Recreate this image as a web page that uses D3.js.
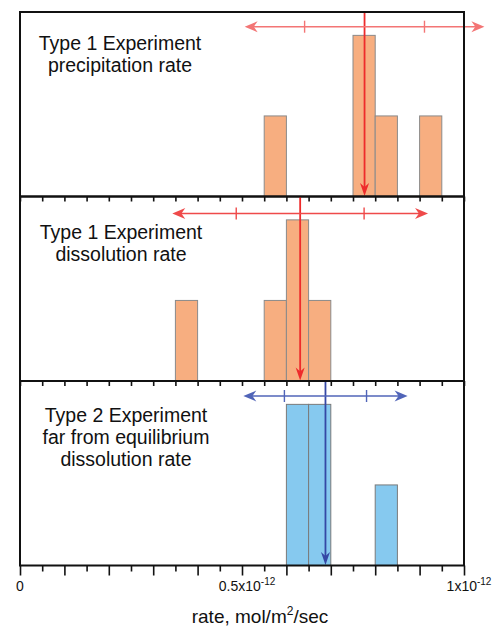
<!DOCTYPE html>
<html>
<head>
<meta charset="UTF-8">
<title>rate histograms</title>
<script src="https://cdn.jsdelivr.net/npm/d3@7"></script>
<style>
  body { margin: 0; background: #fff; }
  text { font-family: "Liberation Sans", Arial, Helvetica, sans-serif; fill: #111; }
</style>
</head>
<body>
<svg id="chart" width="496" height="626"></svg>
<script>
// rates in units of 1e-12 mol/m2/sec, bins are 0.05 wide
const binWidth = 0.05;

const precipBins = [0.55, 0.75, 0.80, 0.90];
const precipCounts = [1, 2, 1, 1];

const dissolBins = [0.35, 0.55, 0.60, 0.65];
const dissolCounts = [1, 1, 2, 1];

const farBins = [0.60, 0.65, 0.80];
const farCounts = [2, 2, 1];

const means = [0.776, 0.631, 0.688];
const sds = [0.135, 0.144, 0.0925];

const panelLabels = [
  ["Type 1 Experiment", "precipitation rate"],
  ["Type 1 Experiment", "dissolution rate"],
  ["Type 2 Experiment", "far from equilibrium", "dissolution rate"]
];

const tickLabels = [
  { v: 0, base: "0", exp: "" },
  { v: 0.5, base: "0.5x10", exp: "-12" },
  { v: 1, base: "1x10", exp: "-12" }
];

const svg = d3.select("#chart");

const left = 20, right = 464;
const panelTops = [12, 196.5, 381];
const panelH = 184.5;

const x = d3.scaleLinear().domain([0, 1]).range([left, right]);

const panels = [
  { bins: precipBins, counts: precipCounts, fill: "#f7ae80", stroke: "#8a8a8a",
    vline: "#ee2b2b", hline: "#f37575", arrowOff: 14.7, label: panelLabels[0], labelX: 120, labelY: 38 },
  { bins: dissolBins, counts: dissolCounts, fill: "#f7ae80", stroke: "#8a8a8a",
    vline: "#ee2b2b", hline: "#ef4a4a", arrowOff: 17, label: panelLabels[1], labelX: 121, labelY: 42.8 },
  { bins: farBins, counts: farCounts, fill: "#86c9ef", stroke: "#7a7a7a",
    vline: "#3548a5", hline: "#5064b8", arrowOff: 15, label: panelLabels[2], labelX: 126, labelY: 41.3 }
];

// arrowhead pointing in direction (dx,dy) with tip at (tx,ty)
function arrowHead(tx, ty, dx, dy, len, half) {
  const px = -dy, py = dx;
  const bx = tx - dx * len, by = ty - dy * len;
  const nx = tx - dx * len * 0.7, ny = ty - dy * len * 0.7;
  return `M${tx},${ty}L${bx + px * half},${by + py * half}L${nx},${ny}L${bx - px * half},${by - py * half}Z`;
}

panels.forEach((p, i) => {
  const top = panelTops[i], bottom = top + panelH;
  const y = d3.scaleLinear().domain([0, 2.29]).range([bottom, top]);
  const g = svg.append("g");

  // bars
  g.selectAll("rect")
    .data(p.bins.map((b, j) => ({ b: b, c: p.counts[j] })))
    .join("rect")
    .attr("x", d => x(d.b))
    .attr("width", d => x(d.b + binWidth) - x(d.b))
    .attr("y", d => y(d.c))
    .attr("height", d => y(0) - y(d.c))
    .attr("fill", p.fill)
    .attr("stroke", p.stroke)
    .attr("stroke-width", 1);

  // label
  const t = g.append("text")
    .attr("text-anchor", "middle")
    .style("font-size", "19.5px");
  p.label.forEach((line, k) => {
    t.append("tspan").attr("x", p.labelX).attr("y", top + p.labelY + k * 21.7).text(line);
  });

  // mean line with arrow
  const m = x(means[i]);
  g.append("line")
    .attr("x1", m).attr("x2", m)
    .attr("y1", top).attr("y2", bottom - 8)
    .attr("stroke", p.vline).attr("stroke-width", 1.8);
  g.append("path")
    .attr("d", arrowHead(m, bottom - 0.5, 0, 1, 13, 4.5))
    .attr("fill", p.vline);

  // +/- 2 sd horizontal arrow, ticks at +/- 1 sd
  const ay = top + p.arrowOff;
  const lo = x(means[i] - 2 * sds[i]), hi = x(means[i] + 2 * sds[i]);
  g.append("line")
    .attr("x1", lo + 4).attr("x2", hi - 4)
    .attr("y1", ay).attr("y2", ay)
    .attr("stroke", p.hline).attr("stroke-width", 1.4);
  g.append("path").attr("d", arrowHead(lo, ay, -1, 0, 13, 5.5)).attr("fill", p.hline);
  g.append("path").attr("d", arrowHead(hi, ay, 1, 0, 13, 5.5)).attr("fill", p.hline);
  [-1, 1].forEach(s => {
    const tx = x(means[i] + s * sds[i]);
    g.append("line")
      .attr("x1", tx).attr("x2", tx)
      .attr("y1", ay - 6).attr("y2", ay + 6)
      .attr("stroke", p.hline).attr("stroke-width", 1.4);
  });

  // panel frame
  g.append("rect")
    .attr("x", left).attr("y", top)
    .attr("width", right - left).attr("height", panelH)
    .attr("fill", "none").attr("stroke", "#111").attr("stroke-width", 2);

  // ticks on the bottom edge
  const last = i === panels.length - 1;
  const ax = d3.axisBottom(x)
    .tickValues(d3.range(0, 1.0001, 0.05))
    .tickFormat("")
    .tickSizeOuter(0)
    .tickSizeInner(5);
  const axg = g.append("g").attr("transform", `translate(0,${bottom})`).call(ax);
  axg.select(".domain").remove();
  axg.selectAll(".tick line")
    .attr("stroke", "#111").attr("stroke-width", 1.6)
    .attr("y2", (d, k) => last ? (k % 2 === 0 ? 10 : 6) : 5);
});

// tick labels
const bottomY = panelTops[2] + panelH;
tickLabels.forEach(t => {
  const txt = svg.append("text")
    .attr("x", x(t.v) + (t.exp ? 5 : 0))
    .attr("y", bottomY + 25)
    .attr("text-anchor", "middle")
    .style("font-size", "14px")
    .text(t.base);
  if (t.exp) {
    txt.append("tspan").attr("dy", -6).style("font-size", "10px").text(t.exp);
  }
});

// axis title
const title = svg.append("text")
  .attr("x", 260).attr("y", 623)
  .attr("text-anchor", "middle")
  .style("font-size", "19px")
  .text("rate, mol/m");
title.append("tspan").attr("dy", -8).style("font-size", "12px").text("2");
title.append("tspan").attr("dy", 8).text("/sec");
</script>
</body>
</html>
